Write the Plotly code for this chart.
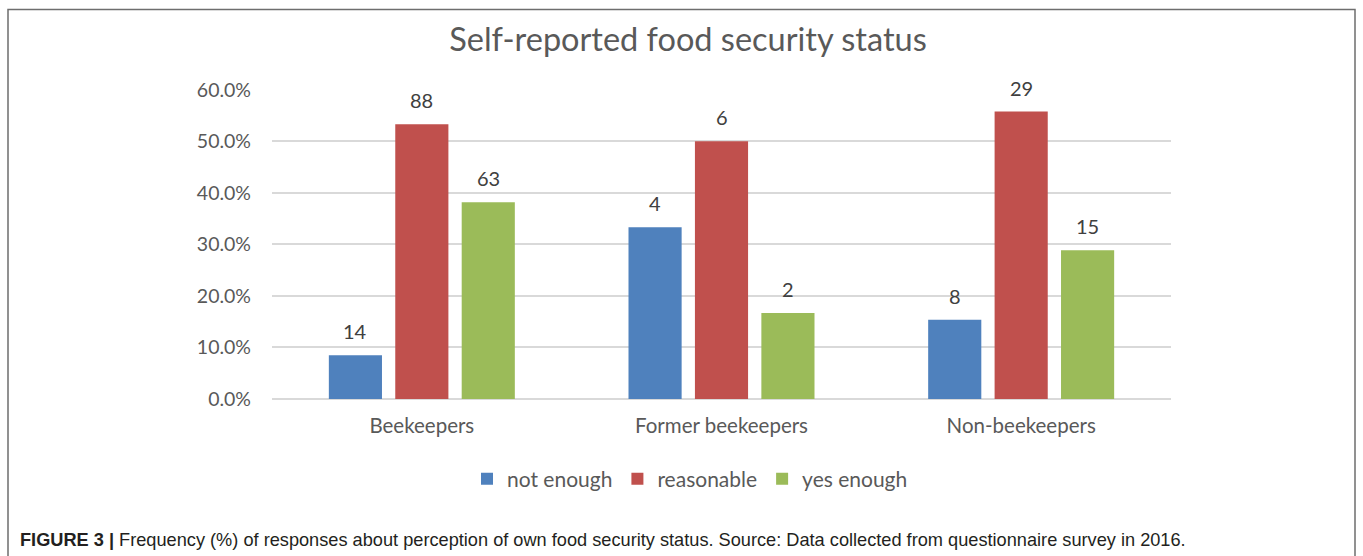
import plotly.graph_objects as go

# Survey groups and response counts per food-security answer
groups = ["Beekeepers", "Former beekeepers", "Non-beekeepers"]
series_names = ["not enough", "reasonable", "yes enough"]
not_enough = [14, 4, 8]
reasonable = [88, 6, 29]
yes_enough = [63, 2, 15]
series_counts = [not_enough, reasonable, yes_enough]
series_colors = ["#4F81BD", "#C0504D", "#9BBB59"]

y_ticks = [0.0, 0.1, 0.2, 0.3, 0.4, 0.5, 0.6]

# Share of each answer within its group
group_totals = [sum(c[i] for c in series_counts) for i in range(len(groups))]
series_share = [[c[i] / group_totals[i] for i in range(len(groups))] for c in series_counts]

W, H = 1363, 556
ML, MR, MT, MB = 272, 192, 89, 157
plot_w = W - ML - MR
plot_h = H - MT - MB

def px_to_paper_x(px):
    return (px - ML) / plot_w

def px_to_paper_y(py):
    return (H - MB - py) / plot_h

fig = go.Figure()
for name, share, color in zip(series_names, series_share, series_colors):
    fig.add_trace(go.Bar(
        x=groups, y=share, name=name,
        marker=dict(color=color, line=dict(width=0)),
        hoverinfo="skip",
    ))

BARGAP = 0.335
GROUPGAP = 0.2
slot_px = plot_w / len(groups) * (1 - BARGAP) / len(series_names)

# Count labels above each bar
annotations = []
for k, (share, counts) in enumerate(zip(series_share, series_counts)):
    for i, g in enumerate(groups):
        annotations.append(dict(
            x=g, y=share[i], xref="x", yref="y",
            text=str(counts[i]), showarrow=False,
            xanchor="center", yanchor="bottom",
            xshift=(k - 1) * slot_px, yshift=10,
            font=dict(family="Lato, Open Sans, sans-serif", size=20, color="#404040"),
        ))

# Figure caption
annotations.append(dict(
    x=px_to_paper_x(18), y=px_to_paper_y(540), xref="paper", yref="paper",
    xanchor="left", yanchor="middle", showarrow=False,
    text="<b>FIGURE 3 |</b> Frequency (%) of responses about perception of own food security status. "
         "Source: Data collected from questionnaire survey in 2016.",
    font=dict(family="Liberation Sans, Arial, sans-serif", size=18.2, color="#231F20"),
))

fig.update_layout(
    width=W, height=H,
    margin=dict(l=ML, r=MR, t=MT, b=MB, pad=0),
    paper_bgcolor="white", plot_bgcolor="white",
    barmode="group", bargap=BARGAP, bargroupgap=GROUPGAP,
    title=dict(
        text="Self-reported food security status",
        x=688 / W, xref="container", xanchor="center",
        y=1 - 40 / H, yref="container", yanchor="middle",
        font=dict(family="Lato, Open Sans, sans-serif", size=32.5, color="#595959"),
    ),
    xaxis=dict(
        showgrid=False, showline=False, zeroline=False, ticks="",
        ticklabelstandoff=12,
        tickfont=dict(family="Lato, Open Sans, sans-serif", size=20.5, color="#595959"),
    ),
    yaxis=dict(
        range=[0, 0.6015], tickvals=y_ticks, tickformat=".1%",
        showgrid=True, gridcolor="#D9D9D9", gridwidth=1.5,
        zeroline=True, zerolinecolor="#D9D9D9", zerolinewidth=1.5,
        showline=False, ticks="", ticklabelstandoff=20,
        tickfont=dict(family="Lato, Open Sans, sans-serif", size=19.5, color="#595959"),
    ),
    legend=dict(
        orientation="h", x=690 / W, xref="container", xanchor="center",
        y=1 - 479 / H, yref="container", yanchor="middle",
        font=dict(family="Lato, Open Sans, sans-serif", size=21, color="#595959"),
        itemwidth=30, bgcolor="rgba(0,0,0,0)",
    ),
    annotations=annotations,
    shapes=[dict(
        type="rect", xref="paper", yref="paper",
        x0=px_to_paper_x(8), x1=px_to_paper_x(1355),
        y0=px_to_paper_y(9.5), y1=px_to_paper_y(H + 10),
        line=dict(color="#6E6E6E", width=1.5), fillcolor="rgba(0,0,0,0)",
        layer="below",
    )],
)

fig.write_html("out.html")
